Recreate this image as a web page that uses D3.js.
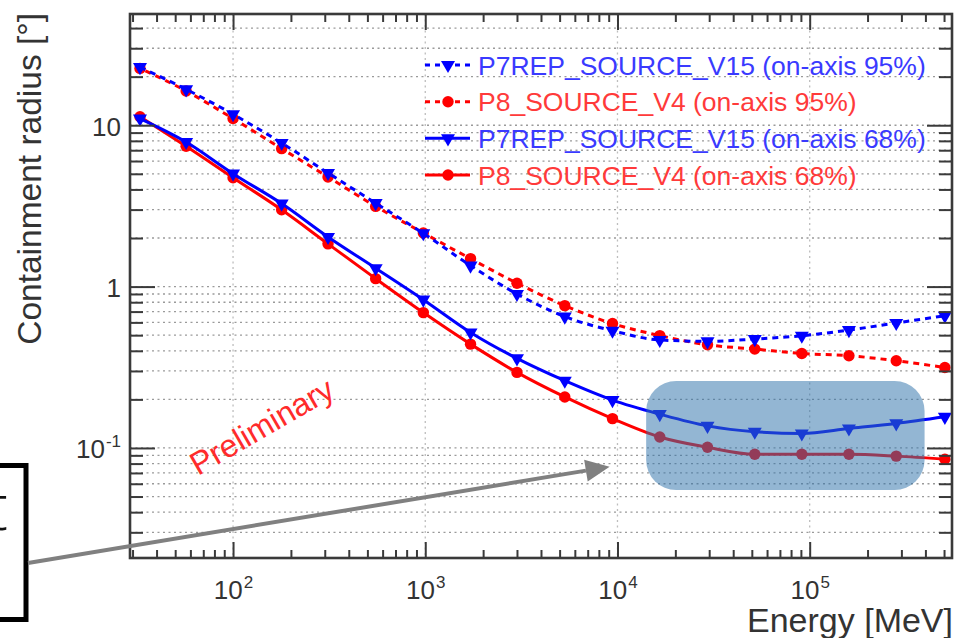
<!DOCTYPE html>
<html><head><meta charset="utf-8">
<script src="https://cdn.jsdelivr.net/npm/d3@7"></script>
<style>body{margin:0;background:#fff} svg{display:block}</style>
</head><body>
<svg id="c" width="955" height="638"></svg>
<script>
// ---- data ----
const energy   = [32.8, 57, 100, 179, 312, 552, 977, 1720, 3000, 5320, 9420, 16600, 29400, 51800, 91000, 160000, 282000, 505000];
const p7rep95  = [22.9, 16.7, 11.7, 7.76, 5.06, 3.29, 2.14, 1.35, 0.90, 0.652, 0.533, 0.467, 0.458, 0.473, 0.496, 0.538, 0.595, 0.66];
const p8v4_95  = [22.5, 16.3, 11.0, 7.16, 4.78, 3.14, 2.15, 1.49, 1.05, 0.762, 0.59, 0.497, 0.436, 0.410, 0.385, 0.373, 0.347, 0.315];
const p7rep68  = [11.0, 7.87, 5.01, 3.27, 2.03, 1.30, 0.83, 0.52, 0.359, 0.261, 0.198, 0.162, 0.137, 0.126, 0.123, 0.132, 0.142, 0.156];
const p8v4_68  = [11.3, 7.41, 4.73, 2.99, 1.84, 1.12, 0.69, 0.44, 0.294, 0.207, 0.152, 0.117, 0.101, 0.0914, 0.0914, 0.0914, 0.089, 0.0851];
const legendLabels = ["P7REP_SOURCE_V15 (on-axis 95%)", "P8_SOURCE_V4 (on-axis 95%)", "P7REP_SOURCE_V15 (on-axis 68%)", "P8_SOURCE_V4 (on-axis 68%)"];
const xMajor = [1e2, 1e3, 1e4, 1e5];
const xTickLabels = [["10","2"], ["10","3"], ["10","4"], ["10","5"]];
const yMajor = [0.1, 1, 10];
const yTickLabels = [["10","-1"], ["1",""], ["10",""]];
const xTitle = "Energy [MeV]";
const yTitle = "Containment radius [°]";
const watermark = "Preliminary";
// highlighted region (data units) and arrow target
const highlight = {e0: 1.41e4, e1: 3.96e5, r0: 0.0548, r1: 0.26};
const arrowTip = {e: 9100, r: 0.0765};

// ---- layout ----
const L = 130, R = 952, T = 14, B = 558;
const svg = d3.select("#c");
const FONT = "'Liberation Sans', Arial, Helvetica, sans-serif";
const x = d3.scaleLog().domain([29.1, 5.5e5]).range([L, R]);
const y = d3.scaleLog().domain([0.0208, 48.9]).range([B, T]);

const inX = v => v >= x.domain()[0] && v <= x.domain()[1];
const inY = v => v >= y.domain()[0] && v <= y.domain()[1];
const xMinor = d3.range(1, 6).flatMap(e => d3.range(2, 10).map(m => m * 10 ** e)).filter(inX);
const yMinor = d3.range(-2, 2).flatMap(e => d3.range(2, 10).map(m => m * 10 ** e)).filter(inY);

// ---- grid ----
const grid = svg.append("g");
grid.selectAll("line.h").data(yMinor.concat(yMajor)).join("line")
  .attr("x1", L).attr("x2", R).attr("y1", d => y(d)).attr("y2", d => y(d))
  .attr("stroke", "#9a9a9a").attr("stroke-width", 1.3).attr("stroke-dasharray", "2,3.5");
grid.selectAll("line.v").data(xMajor).join("line")
  .attr("x1", d => x(d)).attr("x2", d => x(d)).attr("y1", T).attr("y2", B)
  .attr("stroke", "#bdbdbd").attr("stroke-width", 1.3).attr("stroke-dasharray", "2,3.5");

// ---- series ----
const series = [
  {name: legendLabels[1], values: p8v4_95, color: "#ff0000", dash: "6,5", off: 5, marker: "circle"},
  {name: legendLabels[3], values: p8v4_68, color: "#ff0000", dash: null, marker: "circle"},
  {name: legendLabels[0], values: p7rep95, color: "#0000ff", dash: "6,5", off: 0, marker: "tri"},
  {name: legendLabels[2], values: p7rep68, color: "#0000ff", dash: null, marker: "tri"}
];
const line = d3.line().x(d => x(d[0])).y(d => y(d[1])).curve(d3.curveMonotoneX);
const tri = d3.symbol(d3.symbolTriangle, 85)();
function drawMarker(g, m, color) {
  if (m === "circle") g.append("circle").attr("r", 5.7).attr("fill", color);
  else g.append("path").attr("d", tri).attr("transform", "rotate(180)").attr("fill", color);
}
const plot = svg.append("g");
series.forEach(s => {
  const pts = energy.map((e, i) => [e, s.values[i]]);
  plot.append("path").attr("d", line(pts)).attr("fill", "none")
    .attr("stroke", s.color).attr("stroke-width", 3)
    .attr("stroke-dasharray", s.dash).attr("stroke-dashoffset", s.off || 0);
  pts.forEach(p => {
    const g = plot.append("g").attr("transform", `translate(${x(p[0])},${y(p[1])})`);
    drawMarker(g, s.marker, s.color);
  });
});

// ---- frame and ticks ----
function tickAxis(axis, tx, ty, vals, size) {
  const g = svg.append("g").attr("transform", `translate(${tx},${ty})`)
    .call(axis.tickValues(vals).tickSize(size).tickFormat(""));
  g.select(".domain").remove();
  g.selectAll(".tick line").attr("stroke", "#3a3a3a").attr("stroke-width", 2);
}
tickAxis(d3.axisRight(y), L, 0, yMinor, 13);
tickAxis(d3.axisRight(y), L, 0, yMajor, 25);
tickAxis(d3.axisLeft(y), R, 0, yMinor, 13);
tickAxis(d3.axisLeft(y), R, 0, yMajor, 25);
tickAxis(d3.axisTop(x), 0, B, xMinor, 8);
tickAxis(d3.axisTop(x), 0, B, xMajor, 16);
tickAxis(d3.axisBottom(x), 0, T, xMinor, 8);
tickAxis(d3.axisBottom(x), 0, T, xMajor, 16);
svg.append("rect").attr("x", L).attr("y", T).attr("width", R - L).attr("height", B - T)
  .attr("fill", "none").attr("stroke", "#3a3a3a").attr("stroke-width", 2.6);

// ---- tick labels ----
function supLabels(g, labels) {
  g.selectAll(".tick text").each(function(d, i) {
    const t = d3.select(this).text(null);
    t.append("tspan").text(labels[i][0]);
    if (labels[i][1]) t.append("tspan").attr("font-size", 17).attr("dx", 1).attr("dy", -11).text(labels[i][1]);
  });
}
const yl = svg.append("g").attr("transform", `translate(${L},0)`)
  .call(d3.axisLeft(y).tickValues(yMajor).tickSize(0).tickPadding(9));
yl.select(".domain").remove();
yl.selectAll(".tick text").attr("font-family", FONT).attr("font-size", 26).attr("fill", "#333").attr("dy", "0.38em");
supLabels(yl, yTickLabels);
const xl = svg.append("g").attr("transform", `translate(0,${B})`)
  .call(d3.axisBottom(x).tickValues(xMajor).tickSize(0));
xl.select(".domain").remove();
xl.selectAll(".tick text").attr("font-family", FONT).attr("font-size", 26).attr("fill", "#333").attr("y", 41).attr("dy", 0);
supLabels(xl, xTickLabels);

// ---- titles ----
svg.append("text").attr("transform", "translate(41,13) rotate(-90)").attr("text-anchor", "end")
  .attr("font-family", FONT).attr("font-size", 33.5).attr("fill", "#333").text(yTitle);
svg.append("text").attr("x", 953).attr("y", 632).attr("text-anchor", "end")
  .attr("font-family", FONT).attr("font-size", 34).attr("fill", "#333").text(xTitle);

// ---- legend ----
const legendOrder = [2, 0, 3, 1];
const legY = [65, 101.7, 138.3, 175];
legendOrder.forEach((si, row) => {
  const s = series[si];
  const g = svg.append("g").attr("transform", `translate(0,${legY[row]})`);
  g.append("line").attr("x1", 425).attr("x2", 470).attr("stroke", s.color).attr("stroke-width", 3)
    .attr("stroke-dasharray", s.dash ? "5,5" : null);
  const mg = g.append("g").attr("transform", "translate(448,0)");
  drawMarker(mg, s.marker, s.color);
  g.append("text").attr("x", 478).attr("y", 9.5).attr("font-family", FONT).attr("font-size", 26.5)
    .attr("fill", s.color === "#ff0000" ? "#ff3a3a" : "#3a3aff").text(s.name);
});

// ---- watermark ----
svg.append("text").attr("transform", "translate(198,476) rotate(-30)")
  .attr("font-family", FONT).attr("font-size", 32).attr("fill", "#ff2b2b").text(watermark);

// ---- highlight box ----
svg.append("rect").attr("x", x(highlight.e0)).attr("y", y(highlight.r1))
  .attr("width", x(highlight.e1) - x(highlight.e0)).attr("height", y(highlight.r0) - y(highlight.r1))
  .attr("rx", 30).attr("fill", "#2f73ab").attr("fill-opacity", 0.52);

// ---- external slide box and arrow ----
svg.append("rect").attr("x", -60).attr("y", 465.5).attr("width", 86).attr("height", 154)
  .attr("fill", "#fff").attr("stroke", "#000").attr("stroke-width", 5);
svg.append("text").attr("x", 8).attr("y", 530).attr("text-anchor", "end")
  .attr("font-family", "'Open Sans', 'DejaVu Sans', sans-serif").attr("font-weight", 300)
  .attr("font-size", 64).attr("fill", "#111").text("t");
const ax0 = 28, ay0 = 563, ax1 = x(arrowTip.e), ay1 = y(arrowTip.r);
const ang = Math.atan2(ay1 - ay0, ax1 - ax0);
const hl = 24, hw = 11;
const bx = ax1 - hl * Math.cos(ang), by = ay1 - hl * Math.sin(ang);
svg.append("line").attr("x1", ax0).attr("y1", ay0).attr("x2", bx).attr("y2", by)
  .attr("stroke", "#808080").attr("stroke-width", 4);
svg.append("path").attr("d", `M${ax1},${ay1}L${bx + hw * Math.sin(ang)},${by - hw * Math.cos(ang)}L${bx - hw * Math.sin(ang)},${by + hw * Math.cos(ang)}Z`)
  .attr("fill", "#808080");
</script>
</body></html>
